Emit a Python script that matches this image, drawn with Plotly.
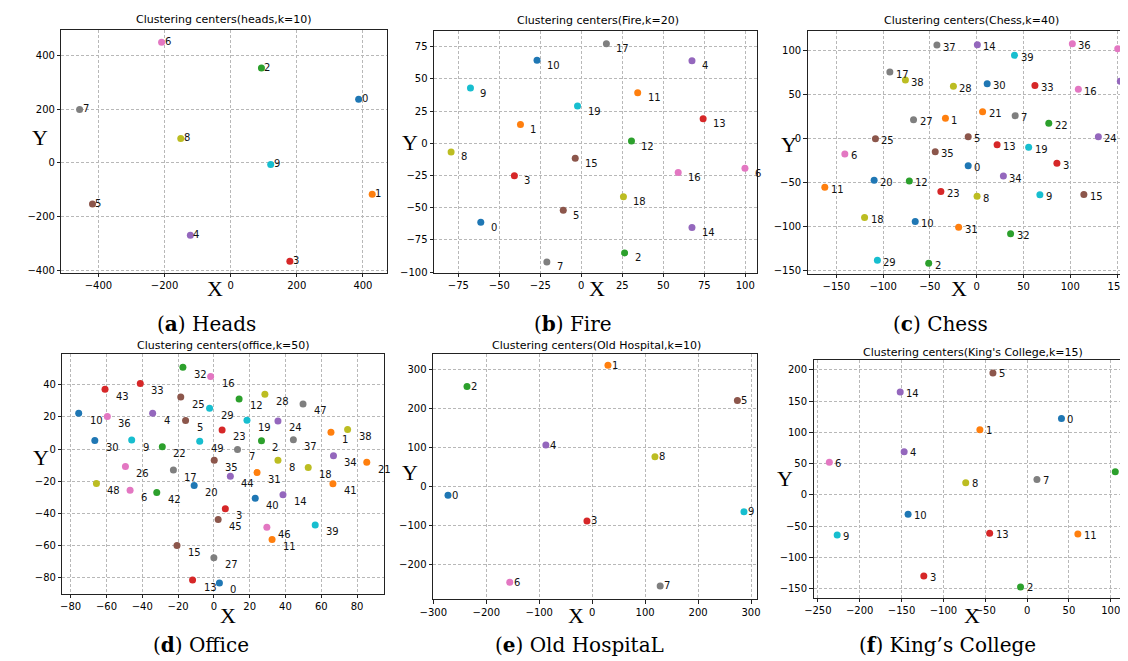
import plotly.graph_objects as go

# ---------------- data ----------------
heads_x = [387, 428, 93, 179, -122, -418, -209, -457, -151, 121]
heads_y = [237, -116, 353, -365, -269, -153, 449, 199, 91, -6]

fire_x = [-61.3, -37.1, 26.4, -40.8, 67.5, -11.0, 99.8, -21.0, -79.4, -67.6,
          -27.0, 34.4, 30.6, 74.3, 67.5, -3.7, 59.1, 15.3, 25.7, -2.3]
fire_y = [-61.2, 14.6, -85.1, -25.2, 64.2, -52.0, -19.3, -92.1, -6.7, 42.9,
          64.5, 39.3, 1.8, 19.2, -65.3, -11.6, -22.7, 77.3, -41.4, 29.0]

chess_x = [-9.1, -33.4, -51.3, 85.7, 153.5, -9.1, -140.9, 41.1, 0.4, 67.5,
           -65.7, -162.3, -72.0, 21.8, 0.7, 114.5, 108.6, -92.8, -119.8, 55.5,
           -109.6, 6.3, 77.0, -38.3, 130.0, -108.2, 150.7, -67.5, -24.9, -106.1,
           11.2, -19.3, 36.2, 62.2, 28.5, -44.3, 102.2, -42.5, -76.2, 40.4]
chess_y = [-31.1, 22.8, -141.5, -28.1, 64.7, 1.9, -17.6, 25.8, -65.5, -64.0,
           -94.3, -55.4, -48.3, -7.1, 106.3, -63.6, 55.8, 75.2, -89.8, -10.1,
           -47.5, 30.3, 17.2, -60.3, 1.9, -0.4, 101.8, 21.0, 59.1, -138.1,
           62.1, -100.7, -108.2, 59.9, -42.7, -15.3, 107.4, 105.9, 66.2, 94.3]

office_x = [3.1, 65.4, 26.6, 6.4, -34.2, -15.8, -46.8, 13.2, 35.8, -45.9,
            -75.5, 32.5, 14.1, -11.9, 38.6, -20.6, -1.8, -22.6, 52.7, 18.5,
            -11.0, 85.4, -28.8, 4.6, 35.8, -18.5, -49.4, 0.0, 28.5, -2.4,
            -66.5, 24.1, -17.3, -41.1, 66.8, 0.2, -59.5, 44.4, 74.7, 56.6,
            23.1, 66.5, -31.9, -60.8, 9.2, 2.4, 29.6, 49.8, -65.6, -7.9]
office_y = [-83.1, 10.5, 5.1, -37.0, 22.2, 17.7, -25.5, -0.2, -7.0, 5.6,
            22.2, -56.2, 31.1, -81.3, -28.4, -59.9, 45.1, -13.0, -11.5, 17.9,
            -22.6, -8.2, 1.4, 11.9, 17.5, 32.3, -10.9, -67.5, 34.0, 25.3,
            5.3, -14.6, 50.8, 40.7, -4.1, -7.0, 20.2, 5.8, 12.1, -47.1,
            -30.5, -21.6, -27.0, 37.2, -16.9, -43.8, -48.6, 28.0, -21.4, 4.9]

hosp_x = [-272.3, 29.8, -236.4, -9.9, -87.5, 274.2, -155.7, 128.4, 118.5, 286.6]
hosp_y = [-22.9, 309.8, 255.5, -89.1, 105.3, 219.9, -246.2, -255.5, 75.6, -65.4]

kings_x = [41.1, -56.4, -7.8, -123.4, -146.9, -40.8, -236.3, 11.8, -73.3, -226.9,
           -142.2, 60.7, 105.4, -44.7, -151.6]
kings_y = [122.1, 104.1, -146.9, -129.5, 69.2, 195.0, 52.3, 24.8, 19.6, -64.0,
           -30.7, -62.4, 37.0, -61.3, 164.4]

titles = ["Clustering centers(heads,k=10)", "Clustering centers(Fire,k=20)",
          "Clustering centers(Chess,k=40)", "Clustering centers(office,k=50)",
          "Clustering centers(Old Hospital,k=10)", "Clustering centers(King's College,k=15)"]
captions = ["(<b>a</b>) Heads", "(<b>b</b>) Fire", "(<b>c</b>) Chess",
            "(<b>d</b>) Office", "(<b>e</b>) Old HospitaL", "(<b>f</b>) King’s College"]

TAB10 = ['#1f77b4', '#ff7f0e', '#2ca02c', '#d62728', '#9467bd',
         '#8c564b', '#e377c2', '#7f7f7f', '#bcbd22', '#17becf']

W, H = 1128, 661

# layout config per panel (pixel boxes, ranges, tick steps, label offsets)
panels = [
    dict(x=heads_x, y=heads_y, box=(41, 371, 22, 267), xr=[-512, 472], yr=[-409, 495],
         dx=200, dy=200, shift=(2, 1), X=(197, 283), Y=(19, 130), cap=(188, 318), tt=(206, 12)),
    dict(x=fire_x, y=fire_y, box=(419, 747, 23, 267), xr=[-89.8, 107.4], yr=[-100.7, 87.4],
         dx=25, dy=25, shift=(9, -5), X=(584, 283), Y=(395, 136), cap=(560, 318), tt=(585, 13)),
    dict(x=chess_x, y=chess_y, box=(798, 1128, 23, 268), xr=[-180.6, 167], yr=[-153.8, 122],
         dx=50, dy=50, shift=(5, -2), X=(952, 283), Y=(779, 138), cap=(933, 318), tt=(964, 13)),
    dict(x=office_x, y=office_y, box=(42, 368, 349, 590), xr=[-84.6, 94.9], yr=[-89.7, 58.8],
         dx=20, dy=20, shift=(10, -7), X=(210, 612), Y=(20, 453), cap=(183, 642), tt=(205, 340)),
    dict(x=hosp_x, y=hosp_y, box=(418, 747, 349, 596), xr=[-300.5, 312], yr=[-290.3, 337.9],
         dx=100, dy=100, shift=(3, 0), X=(563, 612), Y=(395, 468), cap=(567, 642), tt=(584, 340)),
    dict(x=kings_x, y=kings_y, box=(804, 1127, 355, 594), xr=[-255.1, 125.4], yr=[-163.8, 215.1],
         dx=50, dy=50, shift=(5, -1), X=(965, 612), Y=(775, 474), cap=(940, 642), tt=(966, 347)),
]

fig = go.Figure()
annotations = []
tickfont = dict(family="DejaVu Sans", size=10, color="#000")

def px(x):
    return x / W

def py(y):
    return 1 - y / H

for i, p in enumerate(panels, start=1):
    sfx = "" if i == 1 else str(i)
    n = len(p["x"])
    fig.add_trace(go.Scatter(
        x=p["x"], y=p["y"], mode="markers",
        marker=dict(size=7, color=[TAB10[j % 10] for j in range(n)], line=dict(width=0)),
        xaxis="x" + sfx, yaxis="y" + sfx, showlegend=False, hoverinfo="skip"))
    x0, x1, y0, y1 = p["box"]
    common = dict(showgrid=True, gridcolor="#b8b8b8", griddash="3px,2px", gridwidth=0.8,
                  showline=True, linecolor="#222", linewidth=1, mirror=True,
                  ticks="outside", ticklen=3.5, tickwidth=0.8, tickcolor="#222",
                  zeroline=False, tickfont=tickfont, tick0=0)
    fig.update_layout(**{
        "xaxis" + sfx: dict(domain=[px(x0), px(x1)], range=p["xr"], dtick=p["dx"],
                           anchor="y" + sfx, **common),
        "yaxis" + sfx: dict(domain=[py(y1), py(y0)], range=p["yr"], dtick=p["dy"],
                           anchor="x" + sfx, **common),
    })
    xs, ys = p["shift"]
    for j in range(n):
        annotations.append(dict(x=p["x"][j], y=p["y"][j], xref="x" + sfx, yref="y" + sfx,
                                text=str(j), showarrow=False, xanchor="left", yanchor="middle",
                                xshift=xs, yshift=ys, borderpad=0,
                                font=dict(family="DejaVu Sans", size=10, color="#111")))
    # title
    annotations.append(dict(x=px(p["tt"][0]), y=py(p["tt"][1]), xref="paper", yref="paper",
                            text=titles[i - 1], showarrow=False, xanchor="center", yanchor="middle",
                            font=dict(family="DejaVu Sans", size=11, color="#000")))
    # axis letters
    annotations.append(dict(x=px(p["X"][0]), y=py(p["X"][1]), xref="paper", yref="paper",
                            text="X", showarrow=False, xanchor="center", yanchor="middle",
                            font=dict(family="Liberation Serif", size=22, color="#000")))
    annotations.append(dict(x=px(p["Y"][0]), y=py(p["Y"][1]), xref="paper", yref="paper",
                            text="Y", showarrow=False, xanchor="center", yanchor="middle",
                            font=dict(family="Liberation Serif", size=22, color="#000")))
    # caption
    annotations.append(dict(x=px(p["cap"][0]), y=py(p["cap"][1]), xref="paper", yref="paper",
                            text=captions[i - 1], showarrow=False, xanchor="center", yanchor="middle",
                            font=dict(family="DejaVu Serif", size=20, color="#000")))

fig.update_layout(width=W, height=H, margin=dict(l=0, r=0, t=0, b=0),
                  paper_bgcolor="white", plot_bgcolor="white",
                  annotations=annotations, showlegend=False)

fig.write_html("out.html")
